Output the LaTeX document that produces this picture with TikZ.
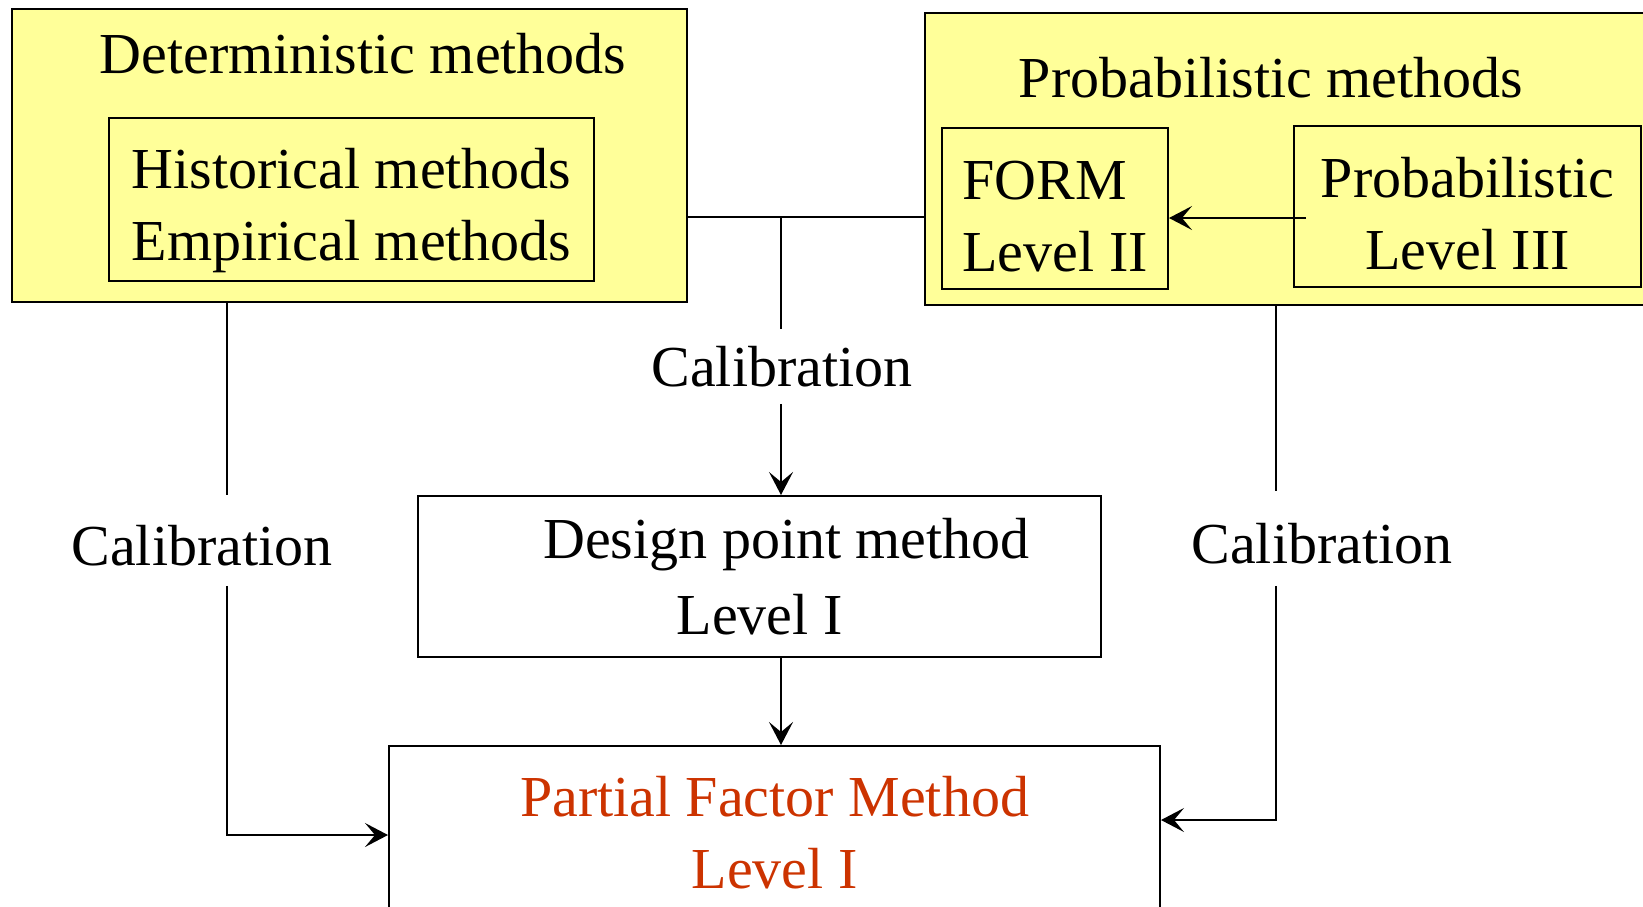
\documentclass[tikz,border=0pt]{standalone}
\usepackage{fontspec}
\setmainfont{Liberation Serif}
\usetikzlibrary{arrows.meta}
\definecolor{boxyellow}{RGB}{255,255,153}
\definecolor{pfmred}{RGB}{204,51,0}

\begin{document}
\begin{tikzpicture}[x=0.5pt,y=-0.5pt,
		every node/.style={font=\fontsize{29}{36}\selectfont},
		outerbox/.style={draw,line width=1pt,fill=boxyellow,inner sep=0pt},
		innerbox/.style={draw,line width=1pt,inner sep=0pt,align=center},
		calib/.style={inner sep=0pt},
		conn/.style={line width=1pt},
		arr/.style={conn,-{Stealth[length=11.5pt,width=12pt,inset=5pt]}}]
	\useasboundingbox (0,0) rectangle (1643,906);
	\clip (0,0) rectangle (1643,906);
	% yellow groups
	\node[outerbox,minimum width=337.5pt,minimum height=146.5pt] (det) at (349.5,155.5) {};
	\node (detTitle) at (363,54) {Deterministic methods};
	\node[innerbox,align=left,minimum width=242.5pt,minimum height=81.5pt] (hist) at (351.5,199.5) {\rule{0pt}{31pt}Historical methods\\Empirical methods};
	\node[outerbox,minimum width=367.5pt,minimum height=146pt] (prob) at (1292.5,159) {};
	\node (probTitle) at (1271,77.5) {Probabilistic methods};
	\node[innerbox,align=left,minimum width=113pt,minimum height=80.5pt] (form) at (1055,208.5) {\rule{0pt}{27.5pt}FORM\\Level II};
	\node[innerbox,minimum width=173.5pt,minimum height=80.5pt] (lvlIII) at (1467.5,206.5) {\rule{0pt}{27.5pt}Probabilistic\\Level III};
	% level I boxes
	\node[innerbox,minimum width=341.5pt,minimum height=80.5pt] (dp) at (759.5,576.5) {\hspace*{27pt}Design point method\\[2pt]Level I};
	\node[innerbox,text=pfmred,minimum width=385.5pt,minimum height=87pt] (pfm) at (774.5,833) {Partial Factor Method\\Level I};
	% labels
	\node[calib] (calM) at (782,367) {Calibration};
	\node[calib] (calL) at (202,546) {Calibration};
	\node[calib] (calR) at (1322,544) {Calibration};
	\coordinate (hub) at (781,217);
	\coordinate (lcorner) at (227,835);
	\coordinate (rcorner) at (1276,820);
	\coordinate (ay) at (0,218);
	% connectors
	\draw[arr,shorten <=-6.5pt] (lvlIII.west |- ay) -- (form.east |- ay);
	\draw[conn] (det.east |- hub) -- (prob.west |- hub);
	\draw[conn,shorten >=8.5pt] (hub) -- (calM.north -| hub);
	\draw[arr,shorten <=8pt] (calM.south -| hub) -- (dp.north -| hub);
	\draw[arr] (dp.south -| hub) -- (pfm.north -| hub);
	\draw[conn,shorten >=15pt] (det.south -| lcorner) -- (calL.north -| lcorner);
	\draw[arr,shorten <=9.5pt] (calL.south -| lcorner) -- (lcorner) -- (pfm.west |- lcorner);
	\draw[conn,shorten >=16pt] (prob.south -| rcorner) -- (calR.north -| rcorner);
	\draw[arr,shorten <=10.5pt] (calR.south -| rcorner) -- (rcorner) -- (pfm.east |- rcorner);
\end{tikzpicture}
\end{document}
